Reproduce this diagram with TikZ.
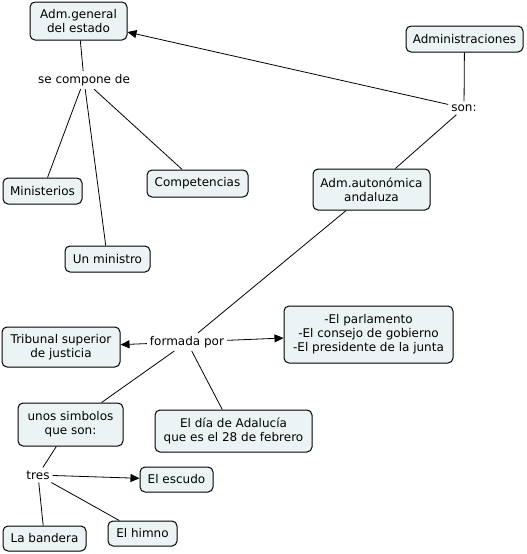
\documentclass[tikz,border=0pt]{standalone}
\usepackage{fontspec}
\setmainfont{DejaVu Sans}
\usetikzlibrary{arrows.meta}
\definecolor{boxfill}{RGB}{236,243,245}
\tikzset{
  concept/.style={draw=black, line width=1pt, rounded corners=5pt, fill=boxfill, align=center,
    font=\fontsize{12}{14}\selectfont, inner sep=3pt},
  linklabel/.style={align=center, font=\fontsize{12}{14}\selectfont, inner sep=3pt, fill=white},
  conn/.style={line width=0.8pt, draw=black},
  arr/.style={conn, -{Triangle[length=9pt,width=8pt]}}
}
\begin{document}
\begin{tikzpicture}[x=1pt,y=-1pt]
\useasboundingbox (0,0) rectangle (527,554);
\fill[white] (0,0) rectangle (527,554);
% concepts
\node[concept, minimum width=97pt, minimum height=38pt] (gen) at (78.5,21) {Adm.general\\del estado};
\node[concept, minimum width=117pt, minimum height=26pt] (adm) at (464.5,39) {Administraciones};
\node[concept, minimum width=79pt, minimum height=26pt] (min) at (42.5,191) {Ministerios};
\node[concept, minimum width=101pt, minimum height=27pt] (comp) at (197.5,183.5) {Competencias};
\node[concept, minimum width=85pt, minimum height=26pt] (unm) at (107.5,259) {Un ministro};
\node[concept, minimum width=117pt, minimum height=41pt] (aut) at (371.5,189.5) {Adm.autonómica\\andaluza};
\node[concept, minimum width=118pt, minimum height=40pt] (trib) at (61,347) {Tribunal superior\\de justicia};
\node[concept, minimum width=169pt, minimum height=57pt] (parl) at (368.5,334.5) {-El parlamento\\-El consejo de gobierno\\-El presidente de la junta};
\node[concept, minimum width=105pt, minimum height=43pt] (simb) at (70.5,424.5) {unos simbolos\\que son:};
\node[concept, minimum width=157pt, minimum height=42pt] (dia) at (233.5,431) {El día de Adalucía\\que es el 28 de febrero};
\node[concept, minimum width=73pt, minimum height=25pt] (esc) at (176.5,479.5) {El escudo};
\node[concept, minimum width=83pt, minimum height=25pt] (band) at (44.5,538.5) {La bandera};
\node[concept, minimum width=69pt, minimum height=25pt] (him) at (142.5,533.5) {El himno};
% link labels
\node[linklabel] (sec) at (84,80) {se compone de};
\node[linklabel] (son) at (464,108) {son:};
\node[linklabel] (form) at (187,342) {formada por};
\node[linklabel] (tres) at (38,475) {tres};
% connectors
\draw[conn] (sec) -- (gen);
\draw[conn] (sec) -- (min);
\draw[conn] (sec) -- (unm);
\draw[conn] (sec) -- (comp);
\draw[conn] (adm) -- (son);
\draw[arr] (son) -- (gen);
\draw[conn] (son) -- (aut);
\draw[conn] (aut) -- (form);
\draw[arr] (form) -- (trib);
\draw[arr] (form) -- (parl);
\draw[conn] (form) -- (simb);
\draw[conn] (form) -- (dia);
\draw[conn] (simb) -- (tres);
\draw[arr] (tres) -- (esc);
\draw[conn] (tres) -- (band);
\draw[conn] (tres) -- (him);
\end{tikzpicture}
\end{document}
